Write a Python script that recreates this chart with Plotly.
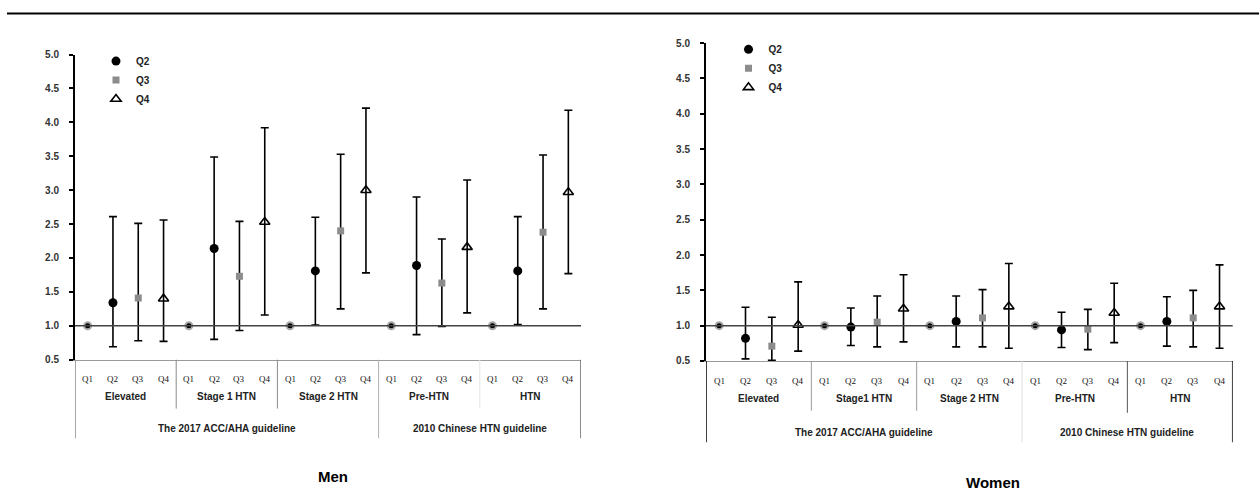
import plotly.graph_objects as go

W, H = 1259, 499

quartiles = ["Q1", "Q2", "Q3", "Q4"]
men_subgroups = ["Elevated", "Stage 1 HTN", "Stage 2 HTN", "Pre-HTN", "HTN"]
women_subgroups = ["Elevated", "Stage1 HTN", "Stage 2 HTN", "Pre-HTN", "HTN"]
guidelines = ["The 2017 ACC/AHA guideline", "2010 Chinese HTN guideline"]
y_ticks = [0.5, 1.0, 1.5, 2.0, 2.5, 3.0, 3.5, 4.0, 4.5, 5.0]

# Odds ratios (Q1 is the reference = 1.0) with 95% CI, one value per subgroup
men_q2 = [1.34, 2.14, 1.81, 1.89, 1.81]
men_q2_lo = [0.69, 0.80, 1.01, 0.87, 1.02]
men_q2_hi = [2.61, 3.49, 2.60, 2.90, 2.61]
men_q3 = [1.41, 1.73, 2.40, 1.63, 2.38]
men_q3_lo = [0.78, 0.93, 1.25, 0.99, 1.25]
men_q3_hi = [2.51, 2.54, 3.53, 2.28, 3.52]
men_q4 = [1.40, 2.53, 3.00, 2.16, 2.97]
men_q4_lo = [0.77, 1.16, 1.78, 1.19, 1.77]
men_q4_hi = [2.56, 3.92, 4.21, 3.15, 4.18]

women_q2 = [0.82, 0.98, 1.06, 0.94, 1.06]
women_q2_lo = [0.53, 0.72, 0.70, 0.69, 0.71]
women_q2_hi = [1.26, 1.25, 1.42, 1.19, 1.41]
women_q3 = [0.71, 1.05, 1.11, 0.95, 1.11]
women_q3_lo = [0.51, 0.70, 0.70, 0.66, 0.70]
women_q3_hi = [1.12, 1.42, 1.51, 1.23, 1.50]
women_q4 = [1.01, 1.24, 1.27, 1.18, 1.27]
women_q4_lo = [0.64, 0.77, 0.68, 0.76, 0.68]
women_q4_hi = [1.62, 1.72, 1.88, 1.60, 1.86]

reference_or = [1.0, 1.0, 1.0, 1.0, 1.0]

SANS = "Liberation Sans, Arial, sans-serif"
SERIF = "Liberation Serif, Times New Roman, serif"

marker_styles = {
    "Q2": dict(symbol="circle", size=9, color="black", line=dict(width=0)),
    "Q3": dict(symbol="square", size=7, color="#8c8c8c", line=dict(width=0)),
    "Q4": dict(symbol="triangle-up-open", size=9, color="black", line=dict(width=1.6)),
}


def px_x(p):
    return p / W


def px_y(p):
    return 1 - p / H


fig = go.Figure()


def add_panel(xa, ya, legend_name, show_legend, series):
    # reference quartile
    fig.add_trace(go.Scatter(
        x=[i * 4 for i in range(5)], y=reference_or, mode="markers",
        marker=dict(symbol="circle", size=7, color="black",
                    line=dict(width=2, color="#a8a8a8")),
        xaxis=xa, yaxis=ya, showlegend=False, cliponaxis=False,
        hoverinfo="skip"))
    for q, (vals, lo, hi) in series.items():
        qi = quartiles.index(q)
        fig.add_trace(go.Scatter(
            x=[i * 4 + qi for i in range(5)], y=vals, mode="markers",
            name=f"<b>{q}</b>", marker=marker_styles[q],
            error_y=dict(type="data", symmetric=False,
                         array=[h - v for h, v in zip(hi, vals)],
                         arrayminus=[v - l for v, l in zip(vals, lo)],
                         color="black", thickness=1.6, width=4),
            xaxis=xa, yaxis=ya, legend=legend_name,
            showlegend=show_legend, cliponaxis=False))


add_panel("x", "y", "legend", True, {
    "Q2": (men_q2, men_q2_lo, men_q2_hi),
    "Q3": (men_q3, men_q3_lo, men_q3_hi),
    "Q4": (men_q4, men_q4_lo, men_q4_hi),
})
add_panel("x2", "y2", "legend2", True, {
    "Q2": (women_q2, women_q2_lo, women_q2_hi),
    "Q3": (women_q3, women_q3_lo, women_q3_hi),
    "Q4": (women_q4, women_q4_lo, women_q4_hi),
})

# panel geometry (pixels)
men_x = (75, 581)
men_y = (50.7, 362.7)
women_x = (706, 1232.7)
women_y = (39, 364)

xaxis_common = dict(range=[-0.5, 19.5], showgrid=False, zeroline=False,
                    showticklabels=False, ticks="", showline=True,
                    linecolor="#9a9a9a", linewidth=1)
yaxis_common = dict(range=[0.5, 5.0], tickvals=y_ticks,
                    ticktext=[f"<b>{v:.1f}</b>" for v in y_ticks],
                    showgrid=False, zeroline=False, showline=True,
                    linecolor="black", linewidth=2, ticks="outside",
                    ticklen=4, tickwidth=2, tickcolor="black",
                    tickfont=dict(family=SANS, size=10, color="#333"),
                    ticklabelstandoff=8)

fig.update_layout(
    width=W, height=H, margin=dict(l=0, r=0, t=0, b=0),
    paper_bgcolor="white", plot_bgcolor="rgba(0,0,0,0)",
    xaxis=dict(domain=[px_x(men_x[0]), px_x(men_x[1])], anchor="y", **xaxis_common),
    yaxis=dict(domain=[px_y(men_y[1]), px_y(men_y[0])], anchor="x", **yaxis_common),
    xaxis2=dict(domain=[px_x(women_x[0]), px_x(women_x[1])], anchor="y2", **xaxis_common),
    yaxis2=dict(domain=[px_y(women_y[1]), px_y(women_y[0])], anchor="x2", **yaxis_common),
    legend=dict(x=px_x(96), y=px_y(42.5), xanchor="left", yanchor="top",
                bgcolor="rgba(0,0,0,0)", borderwidth=0,
                font=dict(family=SANS, size=10, color="#222"),
                tracegroupgap=0, itemwidth=30),
    legend2=dict(x=px_x(728.5), y=px_y(30.5), xanchor="left", yanchor="top",
                 bgcolor="rgba(0,0,0,0)", borderwidth=0,
                 font=dict(family=SANS, size=10, color="#222"),
                 tracegroupgap=0, itemwidth=30),
    showlegend=True,
)

shapes = []
annotations = []

# rule across the top of the page
shapes.append(dict(type="line", xref="paper", yref="paper",
                   x0=px_x(7), x1=1, y0=px_y(8.7), y1=px_y(8.7),
                   line=dict(color="black", width=2)))


def panel_frame(xa, ya_dom, subgroups, axis_bottom, sub_bottom, group_bottom,
                q_y, sub_y, grp_y, seps, border_color, right_color, group_sep_color):
    xr = xa
    # reference line at OR = 1
    shapes.append(dict(type="line", xref=f"{xr} domain", yref=ya_dom,
                       x0=0, x1=1, y0=1.0, y1=1.0,
                       line=dict(color="#444", width=1.5)))
    # table borders and separators
    shapes.append(dict(type="line", xref=xr, yref="paper", x0=-0.5, x1=-0.5,
                       y0=px_y(axis_bottom), y1=px_y(group_bottom),
                       line=dict(color=border_color, width=1.5)))
    shapes.append(dict(type="line", xref=xr, yref="paper", x0=19.5, x1=19.5,
                       y0=px_y(axis_bottom), y1=px_y(group_bottom),
                       line=dict(color=right_color, width=1.5)))
    for xs, bottom, col in seps:
        shapes.append(dict(type="line", xref=xr, yref="paper", x0=xs, x1=xs,
                           y0=px_y(axis_bottom), y1=px_y(bottom),
                           line=dict(color=col, width=1)))
    shapes.append(dict(type="line", xref=xr, yref="paper", x0=11.5, x1=11.5,
                       y0=px_y(axis_bottom), y1=px_y(group_bottom),
                       line=dict(color=group_sep_color, width=1)))
    # quartile labels
    for i in range(5):
        for qi, q in enumerate(quartiles):
            annotations.append(dict(x=i * 4 + qi, y=px_y(q_y), xref=xr, yref="paper",
                                    text=q, showarrow=False, xanchor="center",
                                    yanchor="middle",
                                    font=dict(family=SERIF, size=9, color="#111")))
        annotations.append(dict(x=i * 4 + 1.5, y=px_y(sub_y), xref=xr, yref="paper",
                                text=f"<b>{subgroups[i]}</b>", showarrow=False,
                                xanchor="center", yanchor="middle",
                                font=dict(family=SANS, size=10, color="#222")))
    for gx, g in zip([5.5, 15.5], guidelines):
        annotations.append(dict(x=gx, y=px_y(grp_y), xref=xr, yref="paper",
                                text=f"<b>{g}</b>", showarrow=False,
                                xanchor="center", yanchor="middle",
                                font=dict(family=SANS, size=10, color="#222")))


panel_frame("x", "y", men_subgroups, 362.7, 412.7, 443, 382.7, 400, 433,
            [(3.5, 412.7, "#8a8a8a"), (7.5, 412.7, "#8a8a8a"), (15.5, 412.7, "#e4e4e4")],
            "#8a8a8a", "#666", "#b0b0b0")
panel_frame("x2", "y2", women_subgroups, 364, 415, 447, 384.3, 402.7, 437,
            [(3.5, 415, "#9a9a9a"), (7.5, 415, "#9a9a9a"), (15.5, 417, "#555")],
            "black", "black", "#dddddd")

annotations.append(dict(x=px_x(332.7), y=px_y(482), xref="paper", yref="paper",
                        text="<b>Men</b>", showarrow=False, xanchor="center",
                        yanchor="middle", font=dict(family=SANS, size=15, color="black")))
annotations.append(dict(x=px_x(993), y=px_y(488), xref="paper", yref="paper",
                        text="<b>Women</b>", showarrow=False, xanchor="center",
                        yanchor="middle", font=dict(family=SANS, size=15, color="black")))

fig.update_layout(shapes=shapes, annotations=annotations)

fig.write_html("out.html")
